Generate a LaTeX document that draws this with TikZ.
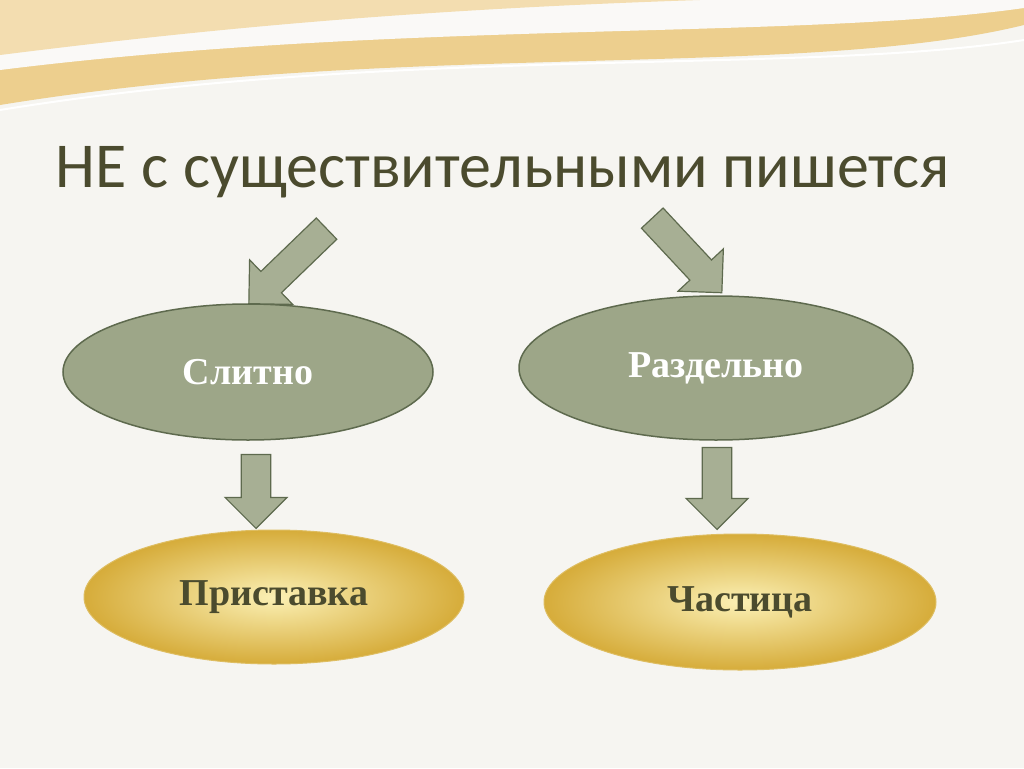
\documentclass[tikz,border=0pt]{standalone}
\usepackage{fontspec}
\setmainfont{Liberation Serif}
\newfontfamily\titlefont{Carlito}
\usetikzlibrary{shapes.geometric, shapes.arrows, positioning}
\definecolor{bgcol}{HTML}{F6F5F1}
\definecolor{olive}{HTML}{9DA688}
\definecolor{oliveedge}{HTML}{5E6A4E}
\definecolor{titlecol}{HTML}{4B4B2E}
\definecolor{goldlight}{HTML}{FBF0B4}
\definecolor{golddark}{HTML}{D6AC3A}
\definecolor{band}{HTML}{EDCF8E}
\tikzset{
  % upper ovals
  way/.style={ellipse, draw=oliveedge, line width=1.5pt, fill=olive, text=white,
    font={\fontsize{38}{42}\selectfont\bfseries}},
  % lower ovals
  kind/.style={ellipse, draw=golddark!80!white, line width=1pt, inner color=goldlight,
    outer color=golddark, text=titlecol, font={\fontsize{38}{42}\selectfont\bfseries}},
  blockarrow/.style={single arrow, draw=oliveedge, line width=1.2pt, fill=olive!90!white,
    minimum width=62pt, single arrow head extend=16pt, inner sep=14pt}
}
\begin{document}
\begin{tikzpicture}[x=1pt, y=-1pt]
\useasboundingbox (0,0) rectangle (1024,768);
\fill[bgcol] (0,0) rectangle (1024,768);
% top wave
\fill[band] (0,0) -- (1024,0) -- (1024,25) .. controls (800,80) and (400,40) .. (0,105) -- cycle;
\fill[bgcol!60!white] (0,0) -- (1024,0) -- (1024,8) .. controls (800,40) and (400,20) .. (0,70) -- cycle;
\fill[band!70!white] (0,0) -- (700,0) .. controls (400,10) and (200,30) .. (0,55) -- cycle;
\draw[white, line width=2pt] (1024,40) .. controls (800,75) and (400,45) .. (0,110);

\node[font={\titlefont\fontsize{64}{68}\selectfont}, text=titlecol] (title) at (503,172)
  {НЕ с существительными пишется};

\node[way, minimum width=370pt, minimum height=136pt] (slit) at (248,372) {Слитно};
\node[way, minimum width=394pt, minimum height=144pt] (razd) at (716,368) {Раздельно};
\node[kind, minimum width=380pt, minimum height=134pt] (prist) at (274,597) {Приставка};
\node[kind, minimum width=392pt, minimum height=136pt] (chast) at (740,602) {Частица};

\node[blockarrow, minimum height=108pt, rotate=224] (a1) at (293,261) {};
\node[blockarrow, minimum height=102pt, rotate=-47] (a2) at (682,250) {};
\node[blockarrow, minimum height=74pt, rotate=-90] (a3) at (256,484) {};
\node[blockarrow, minimum height=82pt, rotate=-90] (a4) at (717,481) {};
\end{tikzpicture}
\end{document}
